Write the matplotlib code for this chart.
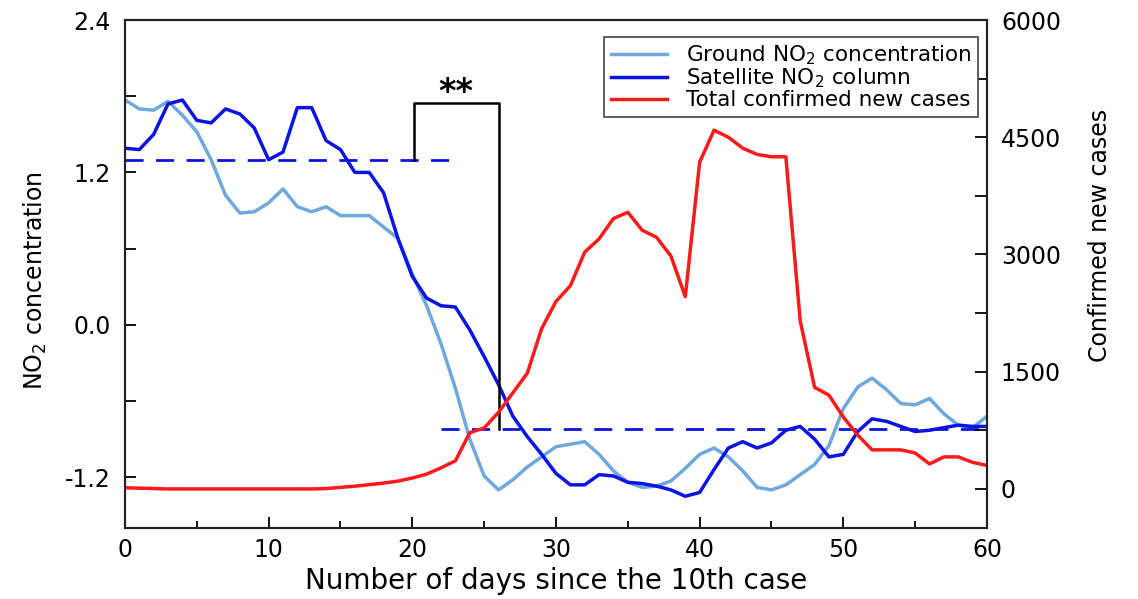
import numpy as np
import matplotlib
matplotlib.use("Agg")
import matplotlib.pyplot as plt
from matplotlib.ticker import MultipleLocator

plt.rcParams['font.family'] = ['DejaVu Sans']

days = np.arange(0, 61)

# ground NO2 concentration (normalised)
ground_no2 = [1.77, 1.70, 1.69, 1.76, 1.65, 1.52, 1.30, 1.02, 0.88, 0.89,
              0.96, 1.07, 0.93, 0.89, 0.93, 0.86, 0.86, 0.86, 0.77, 0.68,
              0.40, 0.15, -0.15, -0.50, -0.90, -1.19, -1.30, -1.22, -1.12, -1.04,
              -0.96, -0.94, -0.92, -1.02, -1.15, -1.24, -1.28, -1.27, -1.23, -1.13,
              -1.02, -0.97, -1.04, -1.15, -1.28, -1.30, -1.26, -1.18, -1.10, -0.95,
              -0.66, -0.49, -0.42, -0.51, -0.62, -0.63, -0.58, -0.70, -0.79, -0.81,
              -0.72]

# satellite NO2 column (normalised)
sat_no2 = [1.39, 1.38, 1.50, 1.74, 1.77, 1.61, 1.59, 1.70, 1.66, 1.55,
           1.30, 1.36, 1.71, 1.71, 1.45, 1.38, 1.20, 1.20, 1.04, 0.68,
           0.38, 0.21, 0.15, 0.14, -0.04, -0.25, -0.47, -0.72, -0.88, -1.02,
           -1.17, -1.26, -1.26, -1.18, -1.19, -1.24, -1.25, -1.27, -1.30, -1.35,
           -1.32, -1.14, -0.97, -0.92, -0.97, -0.93, -0.83, -0.80, -0.90, -1.04,
           -1.02, -0.84, -0.74, -0.76, -0.80, -0.84, -0.83, -0.81, -0.79, -0.80,
           -0.80]

# total confirmed new cases
new_cases = [15, 10, 5, 0, 0, 0, 0, 0, 0, 0,
             0, 0, 0, 0, 5, 20, 35, 55, 75, 100,
             140, 190, 270, 360, 720, 780, 980, 1230, 1480, 2050,
             2400, 2600, 3030, 3200, 3460, 3540, 3310, 3220, 2980, 2460,
             4180, 4590, 4500, 4360, 4280, 4250, 4250, 2150, 1300, 1200,
             920, 690, 500, 500, 500, 460, 320, 410, 410, 340,
             300]

# mean levels before / after
before_x = [0, 23]
before_level = 1.30
after_x = [22, 60]
after_level = -0.82

c_ground = '#6fa8dc'
c_sat = '#0a14e6'
c_red = '#ff1a1a'

fig = plt.figure(figsize=(11.38, 5.99), dpi=100)
ax = fig.add_axes([0.1098, 0.1185, 0.7575, 0.8481])
ax2 = ax.twinx()

l1, = ax.plot(days, ground_no2, color=c_ground, lw=2.5)
l2, = ax.plot(days, sat_no2, color=c_sat, lw=2.5)
l3, = ax2.plot(days, new_cases, color=c_red, lw=2.5)

ax.plot(before_x, [before_level] * 2, color=c_sat, lw=2.0, dashes=(6.5, 4.5))
ax.plot(after_x, [after_level] * 2, color=c_sat, lw=2.0, dashes=(6.5, 4.5))

# significance bracket
ax.plot([20.1, 20.1, 26.0, 26.0], [before_level, 1.75, 1.75, after_level],
        color='black', lw=1.8)
ax.text(23.05, 1.70, '**', ha='center', va='bottom', fontsize=24,
        fontweight='bold')

ax.set_xlim(0, 60)
ax.set_ylim(-1.6, 2.4)
ax2.set_ylim(-500, 6000)

ax.xaxis.set_major_locator(MultipleLocator(10))
ax.xaxis.set_minor_locator(MultipleLocator(5))
ax.yaxis.set_minor_locator(MultipleLocator(0.6))
ax.set_yticks([-1.2, 0.0, 1.2, 2.4])
ax.set_yticklabels(['-1.2', '0.0', '1.2', '2.4'])
ax2.yaxis.set_major_locator(MultipleLocator(1500))
ax2.yaxis.set_minor_locator(MultipleLocator(750))

ax.tick_params(axis='x', which='major', direction='in', length=8, width=1.3,
               labelsize=17, pad=7, top=False)
ax.tick_params(axis='x', which='minor', direction='in', length=5, width=1.3,
               top=False)
ax.tick_params(axis='y', which='both', direction='in', length=8, width=1.3,
               labelsize=17, pad=10, right=False)
ax2.tick_params(axis='y', which='both', direction='in', length=9, width=1.3,
                labelsize=17, pad=10)

for a in (ax, ax2):
    for s in a.spines.values():
        s.set_linewidth(1.5)
        s.set_color('#222222')

ax.text(-0.104, 0.488, 'NO$_2$ concentration', transform=ax.transAxes,
        rotation=90, ha='center', va='center', fontsize=17)
ax2.text(1.131, 0.575, 'Confirmed new cases', transform=ax.transAxes,
         rotation=90, ha='center', va='center', fontsize=17)
ax.set_xlabel('Number of days since the 10th case', fontsize=20, labelpad=4)

leg = ax2.legend([l1, l2, l3],
                 ['Ground NO$_2$ concentration', 'Satellite NO$_2$ column',
                  'Total confirmed new cases'],
                 loc='upper right', bbox_to_anchor=(0.99, 0.967),
                 borderaxespad=0, fontsize=15.5, fancybox=False,
                 edgecolor='#444444', framealpha=1, handlelength=2.6,
                 handletextpad=0.9, labelspacing=0.0, borderpad=0.3)
leg.get_frame().set_linewidth(1.2)
for h in leg.get_lines():
    h.set_linewidth(2.5)

fig.savefig('out.png', dpi=100)
